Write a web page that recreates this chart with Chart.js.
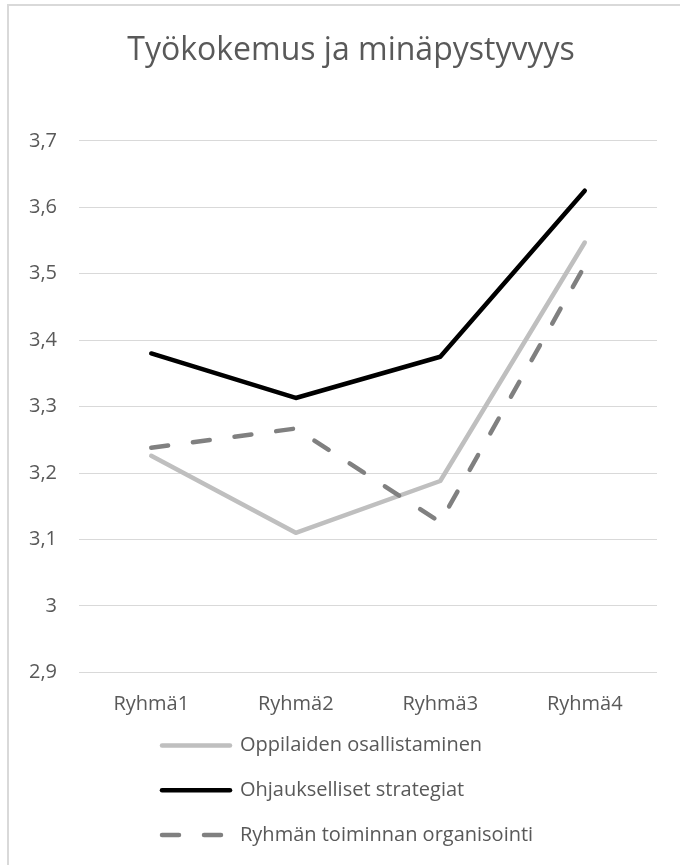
<!DOCTYPE html>
<html lang="fi">
<head>
<meta charset="utf-8">
<title>Työkokemus ja minäpystyvyys</title>
<script src="https://cdn.jsdelivr.net/npm/chart.js@4.4.1/dist/chart.umd.min.js"></script>
<style>
  html, body { margin: 0; padding: 0; background: #ffffff; }
  #wrap { width: 680px; height: 865px; }
</style>
</head>
<body>
<div id="wrap"><canvas id="chart" width="680" height="865"></canvas></div>
<script>
// Groups on the horizontal axis
const categories = ['Ryhmä1', 'Ryhmä2', 'Ryhmä3', 'Ryhmä4'];

// Mean scores per group
const oppilaidenOsallistaminen = [3.226, 3.110, 3.188, 3.547];
const ohjaukselliset = [3.380, 3.313, 3.375, 3.625];
const ryhmanToiminta = [3.238, 3.267, 3.126, 3.512];

// Series names
const seriesNames = [
  'Oppilaiden osallistaminen',
  'Ohjaukselliset strategiat',
  'Ryhmän toiminnan organisointi'
];

// Value axis ticks
const yTickValues = [2.9, 3.0, 3.1, 3.2, 3.3, 3.4, 3.5, 3.6, 3.7];

const FONT = '"Open Sans", "Noto Sans", sans-serif';
const TEXT = '#595959';
const GRID = '#d9d9d9';

const fmt = v => String(Number(v.toFixed(1))).replace('.', ',');

// White background and the frame lines of the chart box
const framePlugin = {
  id: 'frame',
  afterLayout(chart) {
    // centre the title over the framed box rather than the whole canvas
    const t = chart.titleBlock;
    if (t) { t.left = 45; t.right = 657; }
  },
  beforeDraw(chart) {
    const ctx = chart.ctx;
    ctx.save();
    ctx.fillStyle = '#ffffff';
    ctx.fillRect(0, 0, chart.width, chart.height);
    ctx.strokeStyle = GRID;
    ctx.lineWidth = 2;
    ctx.beginPath();
    ctx.moveTo(8, chart.height + 2);
    ctx.lineTo(8, 5);
    ctx.lineTo(chart.width + 2, 5);
    ctx.stroke();
    ctx.restore();
  }
};

// Legend stacked in rows under the axis, one series per row
const stackedLegend = {
  id: 'stackedLegend',
  afterDraw(chart) {
    const ctx = chart.ctx;
    const x0 = 162, x1 = 230, tx = 240;
    const firstRow = 745.5, rowGap = 44.7;
    ctx.save();
    chart.data.datasets.forEach((ds, i) => {
      const y = firstRow + i * rowGap;
      ctx.beginPath();
      ctx.strokeStyle = ds.borderColor;
      ctx.lineWidth = ds.borderWidth;
      ctx.lineCap = 'round';
      ctx.setLineDash(ds.borderDash || []);
      ctx.moveTo(x0, y);
      ctx.lineTo(x1, y);
      ctx.stroke();
      ctx.setLineDash([]);
      ctx.fillStyle = TEXT;
      ctx.font = '20px ' + FONT;
      ctx.textAlign = 'left';
      ctx.textBaseline = 'middle';
      ctx.fillText(ds.label, tx, y);
    });
    ctx.restore();
  }
};

const lineStyle = {
  fill: false,
  tension: 0,
  pointRadius: 0,
  pointHoverRadius: 0,
  borderWidth: 4.5,
  borderCapStyle: 'round',
  borderJoinStyle: 'round'
};

new Chart(document.getElementById('chart'), {
  type: 'line',
  data: {
    labels: categories,
    datasets: [
      Object.assign({}, lineStyle, {
        label: seriesNames[0],
        data: oppilaidenOsallistaminen,
        borderColor: '#bfbfbf',
        order: 3
      }),
      Object.assign({}, lineStyle, {
        label: seriesNames[1],
        data: ohjaukselliset,
        borderColor: '#000000',
        order: 2
      }),
      Object.assign({}, lineStyle, {
        label: seriesNames[2],
        data: ryhmanToiminta,
        borderColor: '#808080',
        borderDash: [17, 25],
        order: 1
      })
    ]
  },
  options: {
    responsive: false,
    animation: false,
    events: [],
    layout: { padding: { top: 10, left: 22, right: 23, bottom: 0 } },
    plugins: {
      legend: { display: false },
      tooltip: { enabled: false },
      title: {
        display: true,
        text: 'Työkokemus ja minäpystyvyys',
        color: TEXT,
        font: { family: FONT, size: 32, weight: 'normal' },
        padding: { top: 22, bottom: 70.5 }
      }
    },
    scales: {
      x: {
        offset: true,
        grid: { display: false },
        border: { display: false },
        ticks: {
          color: TEXT,
          font: { family: FONT, size: 20 },
          padding: 12,
          maxRotation: 0
        },
        afterFit(scale) { scale.height = 865 - 672.3; }
      },
      y: {
        min: 2.9,
        max: 3.7,
        grid: { color: GRID, lineWidth: 1, drawTicks: false },
        border: { display: false },
        ticks: {
          color: TEXT,
          font: { family: FONT, size: 20 },
          padding: 22,
          callback: v => fmt(v)
        },
        afterBuildTicks(scale) {
          scale.ticks = yTickValues.map(v => ({ value: v }));
        },
        afterFit(scale) { scale.width = 57; }
      }
    }
  },
  plugins: [framePlugin, stackedLegend]
});
</script>
</body>
</html>
